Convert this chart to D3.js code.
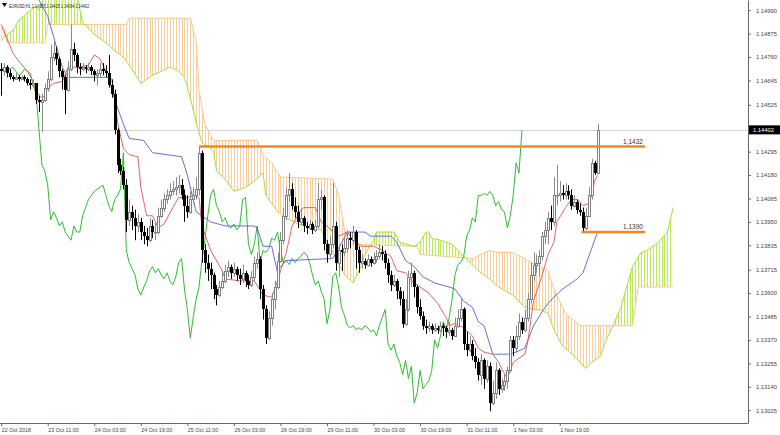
<!DOCTYPE html>
<html><head><meta charset="utf-8">
<script src="https://cdn.jsdelivr.net/npm/d3@7"></script>
<style>
html,body{margin:0;padding:0;background:#fff;}
svg{display:block;font-family:"Liberation Sans",Arial,sans-serif;}
</style></head><body>
<svg id="chart" width="780" height="435"></svg>
<script>
// ---------------- DATA ----------------
const title = "EURUSD,H1  1.14395 1.14425 1.14064 1.14402";
const firstOpen = 1.1470;
const closes = [1.1469,1.1471,1.1468,1.1466,1.1465,1.1466,1.1465,1.1466,1.1465,1.1463,
1.1462,1.1463,1.1455,1.1454,1.1455,1.1461,1.1465,1.1476,1.1478,1.1475,
1.1469,1.1466,1.1460,1.1470,1.1480,1.1477,1.1471,1.1470,1.1471,1.1470,
1.1471,1.1469,1.1467,1.1468,1.1470,1.1469,1.1468,1.1462,1.1458,1.1440,
1.1423,1.1420,1.1413,1.1396,1.1400,1.1397,1.1393,1.1395,1.1390,1.1388,
1.1386,1.1393,1.1390,1.1390,1.1398,1.1402,1.1406,1.1408,1.1410,1.1411,
1.1412,1.1413,1.1408,1.1403,1.1400,1.1406,1.1408,1.1411,1.1429,1.1381,
1.1375,1.1372,1.1369,1.1362,1.1359,1.1363,1.1366,1.1371,1.1373,1.1370,
1.1372,1.1369,1.1367,1.1370,1.1366,1.1364,1.1368,1.1375,1.1377,1.1362,
1.1352,1.1338,1.1348,1.1357,1.1363,1.1376,1.1386,1.1398,1.1408,1.1411,
1.1403,1.1400,1.1395,1.1397,1.1393,1.1392,1.1394,1.1391,1.1393,1.1406,
1.1407,1.1384,1.1379,1.1384,1.1393,1.1375,1.1381,1.1380,1.1382,1.1387,
1.1386,1.1390,1.1381,1.1375,1.1376,1.1374,1.1377,1.1375,1.1377,1.1378,
1.1380,1.1379,1.1375,1.1369,1.1364,1.1366,1.1361,1.1357,1.1345,1.1352,
1.1368,1.1370,1.1363,1.1353,1.1349,1.1344,1.1343,1.1344,1.1342,1.1343,
1.1342,1.1344,1.1343,1.1341,1.1342,1.1339,1.1344,1.1348,1.1352,1.1335,
1.1332,1.1335,1.1329,1.1326,1.1320,1.1327,1.1318,1.1324,1.1306,1.1311,
1.1322,1.1313,1.1315,1.1317,1.1322,1.1337,1.1333,1.1339,1.1346,1.1342,
1.1348,1.1357,1.1369,1.1374,1.1375,1.1378,1.1388,1.1391,1.1397,1.1395,
1.1408,1.1408,1.1409,1.1408,1.1410,1.1408,1.1403,1.1405,1.1401,1.1400,
1.1392,1.1398,1.1408,1.1424,1.1419,1.1440];
const highs = [1.1473,1.1473,1.1472,1.1470,1.1467,1.1468,1.1467,1.1467,1.1467,1.1466,
1.1465,1.1465,1.1463,1.1457,1.1458,1.1463,1.1469,1.1482,1.1484,1.1481,
1.1476,1.1470,1.1467,1.1474,1.1492,1.1483,1.1478,1.1473,1.1473,1.1472,
1.1473,1.1472,1.1470,1.1470,1.1473,1.1473,1.1472,1.1477,1.1465,1.1460,
1.1441,1.1426,1.1422,1.1416,1.1406,1.1403,1.1401,1.1399,1.1397,1.1393,
1.1392,1.1397,1.1396,1.1395,1.1402,1.1406,1.1409,1.1411,1.1414,1.1415,
1.1417,1.1418,1.1416,1.1411,1.1408,1.1410,1.1412,1.1417,1.1432,1.1430,
1.1384,1.1379,1.1375,1.1370,1.1364,1.1366,1.1371,1.1374,1.1376,1.1374,
1.1375,1.1373,1.1372,1.1374,1.1371,1.1369,1.1371,1.1378,1.1380,1.1378,
1.1364,1.1354,1.1351,1.1360,1.1366,1.1380,1.1390,1.1402,1.1412,1.1419,
1.1414,1.1407,1.1403,1.1401,1.1398,1.1395,1.1396,1.1395,1.1396,1.1414,
1.1411,1.1408,1.1386,1.1388,1.1414,1.1395,1.1384,1.1384,1.1387,1.1391,
1.1390,1.1393,1.1391,1.1383,1.1379,1.1377,1.1379,1.1378,1.1380,1.1381,
1.1384,1.1383,1.1381,1.1377,1.1371,1.1369,1.1367,1.1363,1.1361,1.1357,
1.1371,1.1375,1.1371,1.1364,1.1357,1.1351,1.1347,1.1346,1.1345,1.1345,
1.1344,1.1346,1.1345,1.1344,1.1346,1.1343,1.1348,1.1352,1.1357,1.1353,
1.1341,1.1339,1.1337,1.1333,1.1328,1.1330,1.1328,1.1327,1.1326,1.1317,
1.1326,1.1323,1.1318,1.1320,1.1324,1.1339,1.1339,1.1344,1.1350,1.1348,
1.1352,1.1360,1.1375,1.1380,1.1379,1.1381,1.1390,1.1395,1.1400,1.1403,
1.1417,1.1423,1.1415,1.1413,1.1414,1.1413,1.1411,1.1408,1.1406,1.1404,
1.1402,1.1402,1.1412,1.1426,1.1425,1.1443];
const lows = [1.1457,1.1467,1.1466,1.1465,1.1464,1.1465,1.1464,1.1465,1.1464,1.1462,
1.1460,1.1461,1.1453,1.1449,1.1439,1.1454,1.1459,1.1464,1.1474,1.1472,
1.1466,1.1460,1.1448,1.1459,1.1469,1.1474,1.1468,1.1467,1.1469,1.1468,
1.1469,1.1467,1.1464,1.1462,1.1466,1.1467,1.1466,1.1461,1.1456,1.1438,
1.1419,1.1418,1.1411,1.1390,1.1393,1.1391,1.1386,1.1390,1.1386,1.1384,
1.1383,1.1385,1.1387,1.1386,1.1389,1.1397,1.1400,1.1404,1.1406,1.1408,
1.1408,1.1409,1.1406,1.1395,1.1397,1.1399,1.1404,1.1406,1.1408,1.1375,
1.1370,1.1366,1.1362,1.1357,1.1354,1.1358,1.1362,1.1365,1.1368,1.1367,
1.1368,1.1366,1.1364,1.1365,1.1363,1.1362,1.1363,1.1366,1.1372,1.1357,
1.1347,1.1335,1.1337,1.1344,1.1352,1.1362,1.1375,1.1384,1.1396,1.1405,
1.1401,1.1397,1.1392,1.1393,1.1390,1.1389,1.1391,1.1389,1.1390,1.1392,
1.1401,1.1381,1.1375,1.1377,1.1382,1.1371,1.1368,1.1371,1.1378,1.1380,
1.1382,1.1384,1.1372,1.1370,1.1372,1.1372,1.1373,1.1373,1.1374,1.1375,
1.1377,1.1376,1.1372,1.1365,1.1361,1.1363,1.1357,1.1354,1.1343,1.1344,
1.1351,1.1363,1.1358,1.1350,1.1347,1.1342,1.1340,1.1341,1.1340,1.1341,
1.1340,1.1341,1.1339,1.1338,1.1339,1.1337,1.1339,1.1343,1.1346,1.1332,
1.1329,1.1331,1.1327,1.1323,1.1317,1.1315,1.1313,1.1316,1.1302,1.1305,
1.1308,1.1310,1.1311,1.1312,1.1313,1.1321,1.1329,1.1331,1.1337,1.1340,
1.1341,1.1346,1.1355,1.1366,1.1370,1.1368,1.1376,1.1384,1.1384,1.1391,
1.1393,1.1403,1.1405,1.1406,1.1406,1.1406,1.1401,1.1402,1.1399,1.1398,
1.1390,1.1391,1.1399,1.1406,1.1418,1.1419];

// Ichimoku lines: [bar index, price]
const tenkan = [[0,1.1492],[2,1.1485],[4,1.1478],[6,1.1474],[9,1.1469],[11,1.1464],[12,1.1459],[14,1.1456],[15,1.1457],[16,1.1461],[18,1.1463],[21,1.1464],[23,1.1471],[27,1.1471],[30,1.1472],[32,1.1477],[34,1.1475],[36,1.1469],[38,1.1465],[39,1.1456],[40,1.1444],[42,1.1431],[44,1.1428],[47,1.1427],[48,1.1412],[50,1.1398],[52,1.1398],[54,1.1392],[56,1.1394],[59,1.1402],[61,1.1407],[64,1.1407],[67,1.1408],[68,1.1407],[69,1.1393],[72,1.1381],[76,1.1371],[77,1.1367],[82,1.1366],[87,1.1366],[90,1.1359],[93,1.1358],[95,1.1366],[98,1.1380],[100,1.1393],[103,1.1401],[104,1.1402],[108,1.1402],[110,1.1395],[112,1.1393],[114,1.1390],[116,1.1388],[119,1.1390],[121,1.1386],[124,1.1383],[128,1.1383],[131,1.1381],[134,1.1378],[136,1.1371],[139,1.1370],[141,1.1366],[145,1.1362],[147,1.1360],[150,1.1355],[153,1.1348],[154,1.1344],[156,1.1345],[159,1.1343],[162,1.1339],[164,1.1333],[166,1.1331],[169,1.1330],[171,1.1326],[172,1.1323],[174,1.1318],[176,1.1326],[178,1.1328],[180,1.1330],[181,1.1336],[183,1.1356],[186,1.1369],[188,1.1379],[190,1.1385],[191,1.1395],[194,1.1402],[196,1.1406],[198,1.1406],[200,1.1403],[202,1.1404],[203,1.1408],[204,1.1415],[205,1.1418]];
const kijun = [[10,1.1509],[13,1.1504],[16,1.1496],[18,1.1486],[20,1.1476],[21,1.1471],[23,1.1466],[37,1.1466],[38,1.1460],[40,1.1451],[42,1.1443],[44,1.1436],[49,1.1435],[51,1.1431],[52,1.1429],[62,1.1427],[64,1.1418],[66,1.1406],[67,1.1400],[69,1.1398],[72,1.1395],[77,1.1393],[87,1.1393],[88,1.1392],[90,1.1383],[93,1.1383],[95,1.1370],[96,1.1373],[98,1.1376],[114,1.1377],[119,1.1390],[125,1.1390],[127,1.1388],[134,1.1388],[136,1.1385],[139,1.1376],[142,1.1373],[145,1.1368],[149,1.1365],[154,1.1363],[156,1.1362],[159,1.1356],[162,1.1353],[164,1.1346],[166,1.1344],[169,1.1330],[174,1.1330],[177,1.1331],[180,1.1333],[183,1.1344],[186,1.1351],[188,1.1355],[190,1.1358],[193,1.1362],[196,1.1365],[198,1.1367],[200,1.1370],[203,1.1382],[205,1.1390]];
const spanA = [[0,1.1484],[1,1.1486],[2,1.1487],[4,1.1489],[6,1.1494],[10,1.1499],[12,1.1501],[13,1.1499],[15,1.1506],[26,1.1506],[28,1.1493],[32,1.1487],[36,1.1483],[39,1.1479],[42,1.1476],[45,1.1470],[48,1.1463],[50,1.1465],[52,1.1467],[58,1.1471],[61,1.1469],[63,1.1466],[65,1.1456],[67,1.1444],[69,1.1434],[73,1.1430],[74,1.1420],[77,1.1416],[80,1.1410],[84,1.1412],[87,1.1415],[90,1.1419],[91,1.1408],[93,1.1404],[95,1.1400],[98,1.1397],[102,1.1394],[105,1.1393],[110,1.1391],[114,1.1380],[118,1.1369],[121,1.1365],[123,1.1371],[125,1.1379],[128,1.1386],[129,1.1390],[135,1.1390],[137,1.1385],[142,1.1383],[144,1.1385],[146,1.1390],[147,1.1390],[148,1.1387],[151,1.1386],[155,1.1384],[159,1.1378],[164,1.1371],[168,1.1367],[171,1.1363],[176,1.1359],[180,1.1353],[183,1.1352],[185,1.1352],[188,1.1350],[190,1.1342],[193,1.1334],[197,1.1329],[201,1.1323],[203,1.1326],[206,1.1329],[208,1.1337],[210,1.1343],[213,1.1353],[215,1.1363],[217,1.1373],[220,1.1380],[222,1.1381],[226,1.1385],[229,1.1390],[230,1.1396],[231,1.1402]];
const spanB = [[0,1.1490],[1,1.1490],[2,1.1483],[15,1.1483],[16,1.1492],[43,1.1492],[44,1.1495],[65,1.1495],[67,1.1484],[68,1.1460],[70,1.1443],[73,1.1435],[88,1.1435],[90,1.1428],[93,1.1424],[96,1.1417],[114,1.1416],[116,1.1408],[118,1.1391],[120,1.1384],[143,1.1383],[144,1.1379],[162,1.1377],[165,1.1379],[168,1.1381],[170,1.1380],[176,1.1380],[181,1.1376],[188,1.1371],[190,1.1362],[194,1.1350],[199,1.1344],[217,1.1344],[219,1.1363],[231,1.1363]];
const chikouShift = 26;

// horizontal levels drawn on the chart
const levelValues = [1.1432, 1.1390];
const levelFromBar = [68, 199.5];
const levelToBar = 221.3;

const lastPrice = 1.14402;
const priceTicks = [1.14990,1.14875,1.14760,1.14645,1.14525,1.14295,1.14180,1.14065,1.13950,1.13835,1.13715,1.13600,1.13485,1.13370,1.13255,1.13140,1.13025];
const timeTickBars = [0,16,32,48,64,80,96,112,128,144,160,176,192];
const timeTickLabels = ["22 Oct 2018","23 Oct 11:00","24 Oct 03:00","24 Oct 19:00","25 Oct 11:00","26 Oct 03:00","26 Oct 19:00","29 Oct 11:00","30 Oct 03:00","30 Oct 19:00","31 Oct 11:00","1 Nov 03:00","1 Nov 19:00"];

// ---------------- DRAWING ----------------
const W = 748, H = 423;
const svg = d3.select("#chart");
const x = d3.scaleLinear().domain([0, 257]).range([1.2, 748.8]);
const y = d3.scaleLinear().domain([1.15040, 1.12962]).range([0, H]);
const nCloud = 232;

const defs = svg.append("defs");
defs.append("clipPath").attr("id","plot").append("rect").attr("x",0).attr("y",0).attr("width",W).attr("height",H);
const areaAbove = (data) => d3.area().x(d=>x(d[0])).y0(-50).y1(d=>y(d[1]))(data);
const areaBelow = (data) => d3.area().x(d=>x(d[0])).y0(d=>y(d[1])).y1(H+50)(data);
defs.append("clipPath").attr("id","aboveB").append("path").attr("d", areaAbove(spanB));
defs.append("clipPath").attr("id","belowB").append("path").attr("d", areaBelow(spanB));
defs.append("clipPath").attr("id","aboveA").append("path").attr("d", areaAbove(spanA));
defs.append("clipPath").attr("id","belowA").append("path").attr("d", areaBelow(spanA));

const plot = svg.append("g").attr("clip-path","url(#plot)");

function hatch(outerClip, innerClip, color){
  const g = plot.append("g").attr("clip-path",`url(#${outerClip})`)
    .append("g").attr("clip-path",`url(#${innerClip})`);
  g.selectAll("line").data(d3.range(nCloud)).join("line")
    .attr("x1", i => Math.round(x(i))+0.5).attr("x2", i => Math.round(x(i))+0.5)
    .attr("y1", -10).attr("y2", H+10)
    .attr("stroke", color).attr("stroke-width", 1);
}
hatch("aboveB","belowA","#bdeb55");   // span A above span B
hatch("belowB","aboveA","#fbcf9b");   // span B above span A

const line = d3.line().x(d=>x(d[0])).y(d=>y(d[1]));
plot.append("path").attr("d", line(spanB)).attr("fill","none").attr("stroke","#fbc98e").attr("stroke-width",1);
plot.append("path").attr("d", line(spanA)).attr("fill","none").attr("stroke","#a6e03c").attr("stroke-width",1);

// current price line
plot.append("line").attr("x1",0).attr("x2",W)
  .attr("y1", Math.round(y(lastPrice))+0.5).attr("y2", Math.round(y(lastPrice))+0.5)
  .attr("stroke","#d4d4d4").attr("stroke-width",1);

// chikou
const chikou = d3.range(0, closes.length - chikouShift).map(i => [i, closes[i + chikouShift]]);
plot.append("path").attr("d", line(chikou)).attr("fill","none").attr("stroke","#2fbd2f").attr("stroke-width",1);
plot.append("path").attr("d", line(kijun)).attr("fill","none").attr("stroke","#5a5ad2").attr("stroke-width",0.9);
plot.append("path").attr("d", line(tenkan)).attr("fill","none").attr("stroke","#dc5555").attr("stroke-width",0.9);

// candles
const candles = closes.map((c,i) => ({i, o: i ? closes[i-1] : firstOpen, h: highs[i], l: lows[i], c}));
const cg = plot.append("g");
candles.forEach(d => {
  const px = Math.round(x(d.i));
  const bull = d.c >= d.o;
  const top = Math.max(d.h, d.o, d.c), bot = Math.min(d.l, d.o, d.c);
  cg.append("line").attr("x1",px+0.5).attr("x2",px+0.5)
    .attr("y1", y(top)).attr("y2", y(bot))
    .attr("stroke", bull ? "#8a8a8a" : "#000").attr("stroke-width",1);
  const yt = y(Math.max(d.o,d.c)), yb = y(Math.min(d.o,d.c));
  if (bull) {
    cg.append("rect").attr("x", px-0.5).attr("y", Math.round(yt)+0.5)
      .attr("width", 2).attr("height", Math.max(0.5, Math.round(yb)-Math.round(yt)))
      .attr("fill","#fff").attr("stroke","#808080").attr("stroke-width",1);
  } else {
    cg.append("rect").attr("x", px-1).attr("y", Math.round(yt))
      .attr("width", 3).attr("height", Math.max(1, Math.round(yb)-Math.round(yt)))
      .attr("fill","#000");
  }
});

// levels
levelValues.forEach((v,k) => {
  const yy = y(v);
  plot.append("line").attr("x1", x(levelFromBar[k])).attr("x2", x(levelToBar))
    .attr("y1", yy).attr("y2", yy).attr("stroke","#f7861e").attr("stroke-width",2.5);
  plot.append("text").attr("x", x(levelToBar)-2).attr("y", yy-3)
    .attr("text-anchor","end").attr("font-size",6.5).attr("fill","#333")
    .text(v.toFixed(4).replace(".", ","));
});

// title
svg.append("path").attr("d","M2,3L7,3L4.5,7Z").attr("fill","#000");
svg.append("text").attr("x",9).attr("y",7.5).attr("font-size",4.6).attr("fill","#222")
  .attr("textLength",80).attr("lengthAdjust","spacingAndGlyphs").text(title);

// axes
const yAxis = d3.axisRight(y).tickValues(priceTicks).tickFormat(d3.format(".5f"))
  .tickSize(3).tickSizeOuter(0).tickPadding(5);
const ya = svg.append("g").attr("transform",`translate(${W},0)`).call(yAxis);
ya.select(".domain").attr("stroke","#666");
ya.selectAll(".tick line").attr("stroke","#666");
ya.selectAll("text").attr("font-size",5.8).attr("fill","#444").attr("font-family","Liberation Sans, Arial, sans-serif");

const xAxis = d3.axisBottom(x).tickValues(timeTickBars)
  .tickFormat((d,i) => timeTickLabels[i]).tickSize(3).tickSizeOuter(0).tickPadding(2);
const xa = svg.append("g").attr("transform",`translate(0,${H})`).call(xAxis);
xa.select(".domain").attr("d", `M0,0.5H${W}`).attr("stroke","#666");
xa.selectAll(".tick line").attr("stroke","#666");
xa.selectAll("text").attr("text-anchor","start").attr("font-size",5.4).attr("fill","#444").attr("font-family","Liberation Sans, Arial, sans-serif");

// current price tag
const ly = y(lastPrice);
svg.append("rect").attr("x", W+1).attr("y", ly-4.5).attr("width", 780-W-1).attr("height", 9).attr("fill","#000");
svg.append("text").attr("x", W+5).attr("y", ly+2).attr("font-size",5.8).attr("fill","#fff").text(d3.format(".5f")(lastPrice));
</script>
</body></html>
